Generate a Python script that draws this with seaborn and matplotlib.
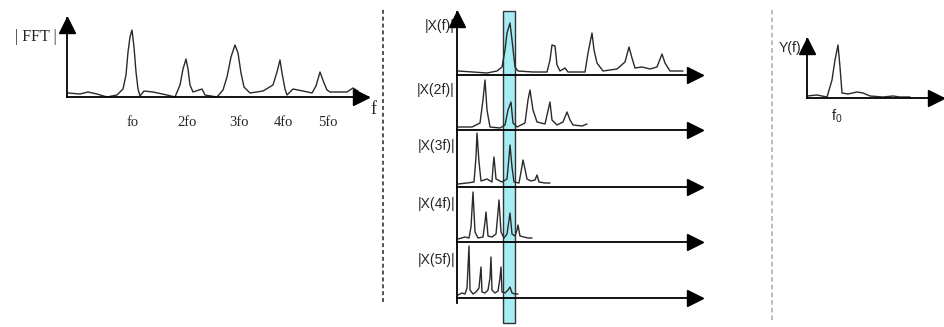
import matplotlib
matplotlib.use("Agg")
import matplotlib.pyplot as plt
import seaborn as sns

# -----------------------------
# Data (x = frequency bins, y = magnitude, pixel-ish units)
# -----------------------------
fft_x = [1, 13, 21, 30, 40, 50, 56, 59, 61, 63, 65, 67, 69, 71, 73, 77, 86, 100, 108, 113, 116,
         119, 121, 123, 126, 135, 138, 150, 156, 160, 164, 168, 171, 174, 177, 183, 196, 206,
         210, 213, 215, 218, 220, 226, 236, 245, 249, 253, 257, 260, 263, 280, 286, 291]
fft_y = [4, 3, 5, 3, 0, 2, 8, 22, 45, 60, 67, 50, 25, 8, 1, 6, 5, 2, 0, 12, 28,
         38, 28, 12, 5, 8, 2, 0, 7, 20, 40, 52, 44, 24, 10, 4, 6, 12,
         25, 37, 24, 8, 2, 8, 6, 4, 11, 25, 14, 7, 5, 5, 9, 6]
fft_ticks = [66, 120, 172, 216, 261]
fft_ticklabels = ["fo", "2fo", "3fo", "4fo", "5fo"]

x1_x = [1, 16, 30, 40, 45, 48, 50, 53, 55, 58, 61, 76, 90, 93, 95, 98, 100, 103, 108, 111, 128,
        131, 135, 137, 140, 146, 160, 168, 172, 175, 178, 185, 193, 200, 205, 208, 213, 226]
x1_y = [4, 3, 2, 4, 8, 25, 42, 52, 35, 8, 4, 3, 3, 15, 30, 29, 10, 4, 7, 3, 3,
        22, 42, 25, 12, 4, 6, 13, 28, 17, 7, 8, 6, 8, 21, 12, 4, 4]

x2_x = [1, 15, 23, 26, 28, 30, 33, 43, 48, 51, 54, 56, 60, 68, 71, 73, 76, 80, 88, 93, 95,
        100, 106, 110, 113, 116, 125, 130]
x2_y = [3, 3, 7, 30, 50, 20, 3, 2, 5, 20, 28, 7, 3, 7, 30, 40, 20, 8, 6, 28, 10,
        5, 8, 18, 10, 5, 4, 6]

x3_x = [1, 10, 17, 19, 20, 22, 24, 30, 35, 36, 37, 39, 45, 50, 52, 53, 55, 57, 62, 64, 66,
        68, 70, 74, 78, 80, 82, 88, 93]
x3_y = [3, 4, 5, 30, 54, 25, 6, 8, 5, 20, 30, 8, 5, 8, 30, 42, 20, 5, 4, 15, 27,
        18, 8, 6, 7, 12, 5, 4, 4]

x4_x = [1, 8, 12, 14, 16, 18, 21, 26, 28, 29, 31, 35, 39, 41, 42, 44, 47, 50, 52, 53, 55,
        58, 60, 61, 63, 67, 71, 75]
x4_y = [3, 5, 4, 15, 50, 10, 4, 5, 20, 30, 6, 5, 8, 30, 42, 10, 4, 8, 22, 29, 8,
        6, 12, 17, 6, 5, 4, 4]

x5_x = [1, 5, 8, 10, 12, 13, 16, 19, 22, 24, 25, 28, 31, 33, 34, 35, 38, 41, 43, 44, 45,
        48, 51, 53, 55, 58, 61]
x5_y = [3, 5, 4, 10, 52, 8, 4, 6, 10, 31, 6, 5, 8, 20, 41, 8, 5, 7, 20, 31, 6,
        5, 8, 11, 5, 4, 4]

row_x = [x1_x, x2_x, x3_x, x4_x, x5_x]
row_y = [x1_y, x2_y, x3_y, x4_y, x5_y]
row_labels = ["|X(f)|", "|X(2f)|", "|X(3f)|", "|X(4f)|", "|X(5f)|"]
band = (46, 58)  # highlighted f0 bin

y_x = [0, 10, 20, 25, 28, 31, 33, 35, 41, 50, 56, 63, 76, 86, 93, 103]
y_y = [2, 3, 1, 18, 38, 53, 31, 5, 4, 6, 5, 2, 1, 2, 1, 1]
y_ticks = [30]
y_ticklabels = [r"f$_\mathregular{0}$"]

# -----------------------------
# Layout helpers
# -----------------------------
W, H = 944, 327
sns.set_style("white")
plt.rcParams["font.family"] = ["Liberation Sans", "DejaVu Sans"]
fig = plt.figure(figsize=(W / 100, H / 100), dpi=100)

trace_kw = dict(color="#2a2a2a", linewidth=1.0, sort=False, estimator=None)


def px_axes(x0, y0, x1, y1, zorder=1):
    ax = fig.add_axes([x0 / W, 1 - y1 / H, (x1 - x0) / W, (y1 - y0) / H], zorder=zorder)
    ax.patch.set_alpha(0)
    return ax


def arrow_axes(ax, xmax, ymax, up=True, ms=11):
    for s in ["top", "right"]:
        ax.spines[s].set_visible(False)
    for s in ["left", "bottom"]:
        ax.spines[s].set_linewidth(1.3)
        ax.spines[s].set_color("black")
    ax.spines["bottom"].set_position(("data", 0))
    ax.plot(xmax - 7, 0, ">", color="black", ms=ms, clip_on=False, zorder=5)
    if up:
        ax.plot(0, ymax - 7, "^", color="black", ms=ms, clip_on=False, zorder=5)
    ax.set_yticks([])


# background axes for the separators
bg = fig.add_axes([0, 0, 1, 1], zorder=0)
bg.set_xlim(0, W)
bg.set_ylim(H, 0)
bg.axis("off")
bg.axvline(383, ymin=0.075, ymax=0.98, color="#444444", lw=1.3, ls=(0, (2.2, 1.6)))
bg.axvline(772, ymin=0.02, ymax=0.98, color="#aaaaaa", lw=1.1, ls=(0, (3, 2)))

# -----------------------------
# Panel 1: |FFT|
# -----------------------------
ax1 = px_axes(67, 18, 368, 97)
ax1.set_xlim(0, 301)
ax1.set_ylim(0, 79)
sns.lineplot(x=fft_x, y=fft_y, ax=ax1, **trace_kw)
arrow_axes(ax1, 301, 79)
ax1.set_xticks(fft_ticks)
ax1.set_xticklabels(fft_ticklabels, family=["Liberation Serif"], fontsize=10.5)
ax1.tick_params(axis="x", length=0, pad=14)
ax1.set_xlabel("")
ax1.set_ylabel("")
ax1.text(-10, 60, "| FFT |", ha="right", va="center", family=["Liberation Serif"], fontsize=11.5)
ax1.text(303, -13, "f", ha="left", va="center", family=["Liberation Serif"], fontsize=13)

# -----------------------------
# Panel 2: stacked compressed spectra
# -----------------------------
ov = px_axes(457, 0, 702, 327, zorder=1)
ov.set_xlim(0, 245)
ov.set_ylim(0, 1)
ov.axis("off")
ov.axvspan(band[0], band[1], ymin=4 / 327, ymax=316 / 327,
           facecolor="#a6ecf4", edgecolor="#333333", linewidth=1.0)

tops = [12, 75, 130, 187, 242]
bottoms = [75, 130, 187, 242, 298]
label_y = [26, 90, 146, 204, 260]
for i in range(5):
    extra = 5 if i == 4 else 0
    ax = px_axes(457, tops[i], 702, bottoms[i] + extra, zorder=2)
    h = bottoms[i] - tops[i]
    ax.set_xlim(0, 245)
    ax.set_ylim(-extra, h)
    sns.lineplot(x=row_x[i], y=row_y[i], ax=ax, **trace_kw)
    arrow_axes(ax, 245, h, up=(i == 0))
    ax.set_xticks([])
    ax.set_xlabel("")
    ax.set_ylabel("")
    ax.text(-2, bottoms[i] - label_y[i], row_labels[i], ha="right", va="center", fontsize=10)

# -----------------------------
# Panel 3: Y(f)
# -----------------------------
ax3 = px_axes(807, 39, 943, 98)
ax3.set_xlim(0, 136)
ax3.set_ylim(0, 59)
sns.lineplot(x=y_x, y=y_y, ax=ax3, **trace_kw)
arrow_axes(ax3, 136, 59)
ax3.set_xticks(y_ticks)
ax3.set_xticklabels(y_ticklabels, fontsize=10.5)
ax3.tick_params(axis="x", length=0, pad=7)
ax3.set_xlabel("")
ax3.set_ylabel("")
ax3.text(-6, 50, "Y(f)", ha="right", va="center", fontsize=10)

fig.savefig("out.png", dpi=100)
